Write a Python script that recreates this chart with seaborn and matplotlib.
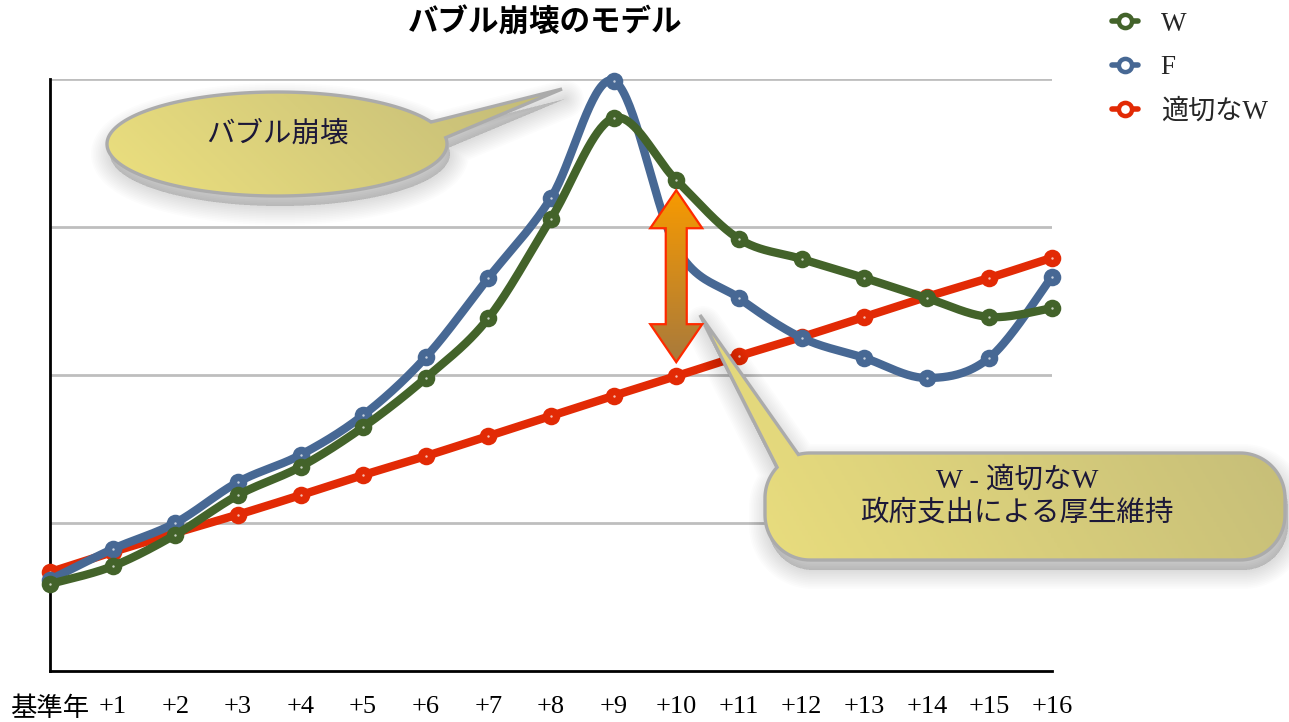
import numpy as np
import matplotlib
matplotlib.use('Agg')
import matplotlib.pyplot as plt
import seaborn as sns
import pandas as pd
from matplotlib.patches import Polygon
from matplotlib.lines import Line2D
from matplotlib.colors import LinearSegmentedColormap

# ---------------- data ----------------
categories = ['基準年'] + [f'+{i}' for i in range(1, 17)]
w_values = [14.7, 17.7, 23.0, 29.7, 34.5, 41.2, 49.5, 59.6, 76.4, 93.4, 82.9,
            73.0, 69.6, 66.4, 63.0, 59.8, 61.3]
f_values = [15.4, 20.6, 25.0, 31.9, 36.5, 43.2, 53.0, 66.4, 79.9, 99.7, 71.5,
            63.0, 56.3, 52.9, 49.5, 52.9, 66.6]
proper_w_values = [16.7, 20.1, 23.3, 26.4, 29.7, 33.1, 36.3, 39.7, 43.1, 46.5,
                   49.8, 53.2, 56.4, 59.8, 63.2, 66.4, 69.8]
series_names = ['W', 'F', '適切なW']
title_text = 'バブル崩壊のモデル'
callout1_text = 'バブル崩壊'
callout2_lines = ['W - 適切なW', '政府支出による厚生維持']

colors = {'W': '#43632A', 'F': '#476894', '適切なW': '#E22A05'}

sns.set_theme(style='white')
plt.rcParams['font.family'] = ['Liberation Serif', 'Noto Sans CJK JP', 'DejaVu Sans']
SERIF_CJK = ['Liberation Serif', 'Noto Sans CJK JP']
SANS_CJK = ['Noto Sans CJK JP', 'DejaVu Sans']

W, H = 1289, 722
fig = plt.figure(figsize=(W / 100, H / 100), dpi=100)
fig.patch.set_facecolor('white')
ax = fig.add_axes([50 / W, 51 / H, 1002 / W, 592 / H])
ax.set_facecolor('white')


def smooth(xs, ys, n=40):
    P = np.column_stack([xs, ys]).astype(float)
    out = [P[0]]
    for i in range(len(P) - 1):
        p0 = P[i - 1] if i > 0 else P[i]
        p1, p2 = P[i], P[i + 1]
        p3 = P[i + 2] if i + 2 < len(P) else P[i + 1]
        c1 = p1 + (p2 - p0) / 6
        c2 = p2 - (p3 - p1) / 6
        t = np.linspace(0, 1, n)[1:, None]
        seg = (1 - t) ** 3 * p1 + 3 * (1 - t) ** 2 * t * c1 + 3 * (1 - t) * t ** 2 * c2 + t ** 3 * p2
        out.extend(seg)
    return np.array(out)


xidx = np.arange(len(categories))
series = {'W': w_values, 'F': f_values, '適切なW': proper_w_values}
zorders = {'適切なW': 3, 'F': 4, 'W': 5}
for name in ['適切なW', 'F', 'W']:
    vals = series[name]
    sm = smooth(xidx, vals)
    df = pd.DataFrame({'x': sm[:, 0], 'y': sm[:, 1]})
    sns.lineplot(data=df, x='x', y='y', ax=ax, sort=False, estimator=None,
                 color=colors[name], linewidth=6.0, zorder=zorders[name], clip_on=False,
                 solid_capstyle='round')
    dfp = pd.DataFrame({'x': xidx, 'y': vals})
    sns.scatterplot(data=dfp, x='x', y='y', ax=ax, color=colors[name], s=160,
                    edgecolor=colors[name], linewidth=0, zorder=zorders[name] + 0.1,
                    clip_on=False)
    ax.scatter(xidx, vals, s=3, color='white', alpha=0.7, linewidths=0,
               zorder=zorders[name] + 0.2, clip_on=False)

ax.set_xlim(0, 16)
ax.set_ylim(0, 100)
ax.set_yticks([25, 50, 75, 100])
ax.set_yticklabels([])
ax.yaxis.grid(True, color='#BEBEBE', lw=2)
ax.xaxis.grid(False)
ax.set_axisbelow(True)
ax.set_xticks(xidx)
ax.set_xticklabels(categories, fontsize=19, family=SERIF_CJK, color='black')
ax.tick_params(axis='both', length=0)
ax.tick_params(axis='x', pad=18)
ax.set_xlabel('')
ax.set_ylabel('')
for s in ['top', 'right']:
    ax.spines[s].set_visible(False)
for s in ['left', 'bottom']:
    ax.spines[s].set_color('black')
    ax.spines[s].set_linewidth(2)

fig.text(545 / W, 1 - 23 / H, title_text, ha='center', va='center', fontsize=22,
         fontweight='bold', family=SANS_CJK, color='black')

# legend
handles = [Line2D([0], [0], color=colors[n], lw=4, marker='o', ms=9.5,
                  mfc='white', mec=colors[n], mew=3.2) for n in series_names]
fig.legend(handles, series_names, loc='upper left', bbox_to_anchor=(1101 / W, 1 - 1 / H),
           frameon=False, prop={'family': SERIF_CJK, 'size': 19.5}, handlelength=0.95,
           labelspacing=0.68, handletextpad=0.85, borderaxespad=0)

# ---------------- overlay for callouts ----------------
ov = fig.add_axes([0, 0, 1, 1], zorder=10)
ov.set_xlim(0, W)
ov.set_ylim(H, 0)
ov.axis('off')
ov.patch.set_alpha(0)


def to_px(x, y):
    d = ax.transData.transform((x, y))
    return d[0], H - d[1]


def grad_fill(patch_pts, c1, c2, z, edge=None, elw=2.2, direction='h', shadow=True):
    pts = np.asarray(patch_pts)
    if shadow:
        sp = pts + np.array([3, 10])
        for k in range(12):
            ov.add_patch(Polygon(sp, closed=True, facecolor='black', edgecolor='black',
                                 lw=1 + k * 2.4, alpha=0.011, zorder=z - 0.5,
                                 joinstyle='round'))
    clip = Polygon(pts, closed=True, facecolor='none', edgecolor='none', zorder=z)
    ov.add_patch(clip)
    x0, y0 = pts.min(axis=0)
    x1, y1 = pts.max(axis=0)
    n = 200
    gx, gy = np.meshgrid(np.linspace(0, 1, n), np.linspace(0, 1, n))
    if direction == 'h':
        arr = 0.8 * gx + 0.2 * (1 - gy)
    else:
        arr = gy
    cmap = LinearSegmentedColormap.from_list('g', [c1, c2])
    im = ov.imshow(arr, cmap=cmap, extent=[x0, x1, y1, y0], aspect='auto',
                   origin='upper', zorder=z + 0.1, interpolation='bilinear',
                   vmin=0, vmax=1)
    im.set_clip_path(clip)
    if edge is not None:
        ov.add_patch(Polygon(pts, closed=True, facecolor='none', edgecolor=edge,
                             lw=elw, zorder=z + 0.2, joinstyle='miter'))


# callout 1: ellipse with tail
cx, cy, a, b = 277, 144, 170, 52
th = np.deg2rad(np.linspace(-7, 335, 300))
c1pts = np.column_stack([cx + a * np.cos(th), cy + b * np.sin(th)])
c1pts = np.vstack([c1pts, [562, 89]])
grad_fill(c1pts, '#ECE07E', '#C2BA78', 20, edge='#ABABAB', elw=2.4)
ov.text(cx, 134, callout1_text, ha='center', va='center', fontsize=20.5,
        family=SANS_CJK, color='#1C1838', zorder=25)

# callout 2: rounded box with tail
bx0, by0, bx1, by1, r = 765, 453, 1285, 560, 45


def arc(ccx, ccy, a0, a1, n=30):
    t = np.deg2rad(np.linspace(a0, a1, n))
    return np.column_stack([ccx + r * np.cos(t), ccy + r * np.sin(t)])


parts = [arc(bx0 + r, by0 + r, 255, 270),
         arc(bx1 - r, by0 + r, 270, 360),
         arc(bx1 - r, by1 - r, 0, 90),
         arc(bx0 + r, by1 - r, 90, 180),
         arc(bx0 + r, by0 + r, 180, 223),
         np.array([[700, 315]])]
c2pts = np.vstack(parts)
grad_fill(c2pts, '#ECE07E', '#C2BA78', 20, edge='#ABABAB', elw=2.4)
ov.text(1017, 480, callout2_lines[0], ha='center', va='center', fontsize=20.5,
        family=SERIF_CJK, color='#1C1838', zorder=25)
ov.text(1017, 513, callout2_lines[1], ha='center', va='center', fontsize=20.5,
        family=SERIF_CJK, color='#1C1838', zorder=25)

# double arrow between W and proper W at +10
ax_x, top_y = to_px(10, w_values[10])
_, bot_y = to_px(10, proper_w_values[10])
top_y += 10
bot_y -= 14
hw, sw, hl = 26, 10.5, 38
arrow_pts = np.array([
    [ax_x, top_y], [ax_x + hw, top_y + hl], [ax_x + sw, top_y + hl],
    [ax_x + sw, bot_y - hl], [ax_x + hw, bot_y - hl], [ax_x, bot_y],
    [ax_x - hw, bot_y - hl], [ax_x - sw, bot_y - hl], [ax_x - sw, top_y + hl],
    [ax_x - hw, top_y + hl]])
grad_fill(arrow_pts, '#F89A00', '#A87A3C', 30, edge='#FF2A00', elw=1.6,
          direction='v', shadow=False)

ov.set_xlim(0, W)
ov.set_ylim(H, 0)

fig.savefig('out.png', dpi=100, facecolor='white')
